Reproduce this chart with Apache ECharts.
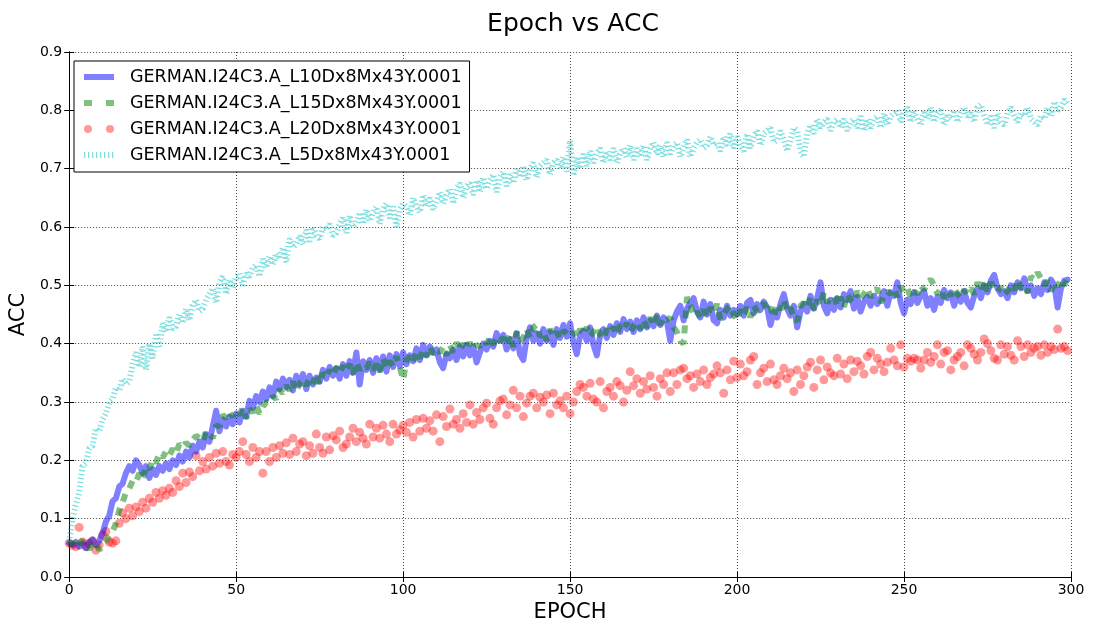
<!DOCTYPE html>
<html>
<head>
<meta charset="utf-8">
<title>Epoch vs ACC</title>
<script src="https://cdn.jsdelivr.net/npm/echarts@6/dist/echarts.min.js"></script>
<style>
  html, body { margin: 0; padding: 0; background: #fff; }
  #chart { width: 1095px; height: 628px; }
</style>
</head>
<body>
<div id="chart"></div>
<script>
// series names
var names = [
    "GERMAN.I24C3.A_L10Dx8Mx43Y.0001",
    "GERMAN.I24C3.A_L15Dx8Mx43Y.0001",
    "GERMAN.I24C3.A_L20Dx8Mx43Y.0001",
    "GERMAN.I24C3.A_L5Dx8Mx43Y.0001"
];

// ACC per epoch (index = epoch)
var accL10 = [
    .058,.055,.06,.052,.057,.05,.06,.064,.055,.062,
    .075,.095,.105,.13,.135,.155,.16,.178,.19,.182,
    .2,.192,.178,.19,.17,.185,.175,.19,.182,.195,
    .185,.2,.192,.208,.198,.215,.205,.225,.215,.232,
    .222,.245,.232,.258,.285,.25,.27,.258,.275,.262,
    .28,.265,.285,.275,.302,.29,.31,.3,.318,.305,
    .325,.31,.335,.322,.34,.325,.338,.32,.345,.33,
    .348,.322,.345,.33,.342,.335,.355,.34,.36,.345,
    .358,.34,.365,.345,.37,.35,.385,.33,.37,.355,
    .372,.35,.375,.355,.378,.352,.38,.36,.382,.362,
    .385,.365,.38,.37,.392,.372,.398,.38,.395,.385,
    .39,.368,.358,.382,.375,.39,.372,.395,.378,.398,
    .38,.395,.368,.385,.4,.39,.405,.395,.418,.405,
    .415,.39,.408,.392,.418,.382,.372,.41,.428,.405,
    .418,.4,.425,.405,.42,.398,.425,.41,.432,.412,
    .435,.402,.382,.415,.422,.405,.428,.398,.38,.415,
    .425,.41,.43,.415,.435,.42,.442,.425,.438,.42,
    .44,.425,.445,.428,.44,.43,.448,.432,.445,.438,
    .405,.44,.455,.465,.44,.46,.47,.478,.455,.445,
    .472,.45,.468,.44,.435,.458,.445,.465,.448,.458,
    .45,.465,.448,.47,.475,.452,.468,.458,.472,.462,
    .432,.455,.445,.468,.485,.46,.448,.465,.428,.455,
    .468,.455,.482,.46,.478,.505,.465,.452,.475,.458,
    .478,.462,.485,.475,.49,.46,.48,.455,.472,.48,
    .465,.482,.468,.478,.49,.465,.488,.482,.505,.47,
    .452,.475,.468,.488,.47,.482,.49,.465,.478,.458,
    .48,.47,.492,.478,.488,.465,.485,.472,.49,.47,
    .462,.482,.495,.478,.5,.488,.508,.518,.495,.485,
    .49,.478,.5,.488,.505,.495,.512,.49,.5,.482,
    .495,.485,.505,.492,.51,.5,.462,.495,.508,.51
];

var accL15 = [
    .055,.06,.05,.058,.062,.053,.048,.056,.06,.046,
    .055,.062,.07,.078,.092,.115,.128,.145,.152,.165,
    .162,.178,.168,.19,.185,.202,.196,.212,.205,.215,
    .208,.22,.212,.228,.222,.23,.225,.235,.242,.238,
    .232,.25,.245,.238,.26,.258,.278,.272,.282,.275,
    .285,.278,.29,.272,.288,.282,.295,.28,.292,.3,
    .298,.31,.305,.322,.315,.328,.32,.335,.318,.332,
    .338,.328,.342,.332,.348,.33,.35,.342,.355,.345,
    .36,.35,.362,.352,.365,.348,.368,.355,.362,.358,
    .368,.355,.365,.352,.375,.358,.37,.362,.378,.36,
    .338,.372,.378,.368,.385,.375,.39,.378,.395,.382,
    .39,.385,.395,.38,.398,.385,.402,.388,.4,.39,
    .402,.39,.398,.395,.405,.4,.41,.398,.412,.405,
    .41,.398,.415,.395,.42,.405,.41,.425,.41,.428,
    .432,.412,.42,.405,.425,.412,.42,.408,.422,.418,
    .412,.42,.41,.425,.415,.428,.412,.42,.43,.415,
    .408,.425,.418,.428,.415,.432,.425,.435,.42,.43,
    .438,.425,.44,.428,.445,.43,.448,.432,.445,.44,
    .445,.428,.42,.405,.4,.48,.465,.448,.455,.445,
    .458,.445,.462,.452,.468,.442,.45,.46,.465,.45,
    .44,.458,.448,.462,.445,.465,.455,.462,.47,.455,
    .462,.445,.468,.458,.475,.455,.462,.445,.438,.465,
    .47,.462,.48,.458,.475,.465,.488,.47,.478,.482,
    .465,.48,.462,.485,.475,.47,.49,.478,.485,.495,
    .48,.488,.495,.47,.482,.49,.485,.495,.48,.498,
    .488,.495,.48,.49,.485,.5,.492,.505,.51,.5,
    .485,.495,.478,.49,.482,.495,.485,.478,.492,.485,
    .495,.485,.505,.49,.51,.49,.505,.495,.488,.498,
    .485,.49,.5,.492,.51,.495,.5,.488,.515,.51,
    .522,.512,.5,.508,.49,.505,.498,.51,.5,.512
];

var accL20 = [
    .058,.054,.052,.085,.06,.052,.057,.062,.046,.055,
    .072,.078,.06,.058,.062,.092,.11,.1,.118,.105,
    .12,.112,.128,.118,.135,.128,.145,.135,.148,.14,
    .152,.145,.165,.155,.178,.162,.18,.172,.208,.182,
    .198,.185,.205,.19,.212,.195,.215,.198,.192,.21,
    .205,.215,.232,.21,.198,.222,.205,.215,.178,.215,
    .198,.222,.205,.225,.212,.23,.21,.238,.215,.228,
    .232,.208,.225,.212,.245,.222,.212,.24,.218,.242,
    .235,.25,.222,.228,.24,.255,.232,.248,.238,.228,
    .262,.24,.255,.238,.26,.245,.232,.262,.245,.252,
    .26,.248,.265,.24,.27,.25,.272,.255,.268,.25,
    .278,.232,.275,.258,.288,.262,.27,.255,.28,.265,
    .295,.262,.282,.27,.29,.298,.272,.262,.29,.302,
    .305,.278,.295,.32,.29,.31,.275,.298,.31,.315,
    .29,.308,.3,.312,.28,.315,.295,.302,.29,.31,
    .28,.3,.318,.33,.325,.31,.332,.305,.3,.335,
    .29,.318,.325,.31,.335,.328,.3,.32,.352,.328,
    .34,.315,.335,.322,.345,.325,.31,.34,.33,.35,
    .318,.35,.33,.355,.358,.34,.345,.325,.348,.335,
    .355,.33,.342,.348,.362,.35,.315,.355,.338,.37,
    .342,.365,.345,.352,.372,.378,.33,.35,.358,.335,
    .365,.338,.33,.345,.358,.34,.35,.318,.355,.33,
    .345,.36,.368,.325,.355,.372,.338,.36,.35,.345,
    .375,.348,.365,.34,.372,.352,.37,.362,.348,.378,
    .385,.355,.375,.365,.352,.368,.392,.372,.362,.398,
    .36,.375,.37,.375,.372,.358,.372,.385,.368,.378,
    .398,.365,.385,.388,.355,.372,.378,.385,.362,.398,
    .392,.382,.372,.385,.408,.4,.388,.375,.372,.398,
    .382,.395,.38,.372,.405,.395,.378,.398,.385,.392,
    .395,.38,.398,.385,.395,.39,.425,.392,.395,.388
];

var accL5 = [
    .06,.1,.125,.145,.19,.195,.22,.225,.255,.25,
    .27,.28,.3,.305,.325,.32,.34,.33,.335,.365,
    .385,.36,.395,.355,.4,.375,.415,.395,.435,.42,
    .445,.425,.43,.45,.435,.46,.44,.465,.475,.455,
    .46,.475,.485,.495,.47,.505,.515,.485,.51,.495,
    .515,.52,.5,.52,.515,.53,.535,.515,.545,.53,
    .55,.535,.555,.545,.565,.54,.58,.565,.57,.585,
    .57,.595,.575,.6,.585,.58,.6,.595,.605,.585,
    .59,.605,.615,.59,.62,.6,.605,.625,.605,.63,
    .61,.625,.635,.605,.63,.64,.615,.635,.6,.63,
    .64,.635,.62,.65,.635,.625,.655,.635,.65,.63,
    .645,.66,.64,.655,.665,.64,.665,.675,.65,.67,
    .675,.655,.68,.66,.685,.665,.68,.69,.66,.685,
    .695,.67,.69,.675,.7,.685,.705,.68,.7,.71,
    .685,.705,.71,.715,.69,.71,.715,.7,.72,.695,
    .748,.688,.72,.7,.725,.705,.73,.71,.725,.735,
    .71,.73,.715,.735,.71,.725,.735,.72,.74,.715,
    .735,.72,.74,.715,.735,.745,.725,.74,.72,.745,
    .725,.74,.745,.72,.735,.75,.72,.735,.745,.75,
    .735,.74,.755,.74,.745,.73,.755,.74,.76,.735,
    .755,.74,.73,.76,.735,.755,.765,.74,.76,.765,
    .77,.745,.75,.765,.75,.73,.75,.77,.765,.73,
    .72,.76,.775,.76,.785,.77,.78,.785,.765,.78,
    .785,.77,.785,.765,.78,.785,.77,.79,.765,.785,
    .77,.785,.79,.77,.795,.775,.79,.795,.8,.78,
    .795,.805,.78,.8,.785,.775,.8,.785,.805,.78,
    .795,.8,.775,.79,.785,.8,.78,.795,.805,.79,
    .795,.78,.805,.81,.79,.775,.79,.77,.795,.78,
    .775,.795,.805,.79,.78,.795,.79,.805,.785,.78,
    .775,.79,.785,.805,.79,.815,.8,.805,.818,.81
];

var xTicks = [0, 50, 100, 150, 200, 250, 300];
var yTicks = [0, 0.1, 0.2, 0.3, 0.4, 0.5, 0.6, 0.7, 0.8, 0.9];

var cBlue  = 'rgba(0,0,255,0.5)';
var cGreen = 'rgba(0,128,0,0.5)';
var cRed   = 'rgba(255,0,0,0.5)';
var cCyan  = 'rgba(0,191,191,0.5)';
var font = '"DejaVu Sans", sans-serif';

function pairs(arr) {
    return arr.map(function (v, i) { return [i, v]; });
}

// legend icons drawn in a 41x8 box, shape in the left 30px
var box = 'M0,0L0,0M41,8L41,8';
var iconBlue  = 'path://' + box + 'M0,1L30,1L30,7L0,7Z';
var iconGreen = 'path://' + box + 'M0,1L8,1L8,7L0,7ZM22,1L30,1L30,7L22,7Z';
var iconRed   = 'path://' + box + 'M0,4A4,4,0,1,0,8,4A4,4,0,1,0,0,4ZM22,4A4,4,0,1,0,30,4A4,4,0,1,0,22,4Z';
var iconCyan  = 'path://' + box;
for (var k = 0; k < 8; k++) {
    var sx = k * 4;
    iconCyan += 'M' + sx + ',1L' + (sx + 1.3) + ',1L' + (sx + 1.3) + ',7L' + sx + ',7Z';
}

var myChart = echarts.init(document.getElementById('chart'));

var gridLine = { show: true, lineStyle: { color: '#444', width: 1, type: [1, 2] } };
var tickIn = { show: true, inside: true, length: 5, lineStyle: { color: '#000' } };

var option = {
    animation: false,
    backgroundColor: '#fff',
    title: {
        text: 'Epoch vs ACC',
        left: 568,
        textAlign: 'center',
        top: 7,
        textStyle: { fontFamily: font, fontSize: 25, fontWeight: 'normal', color: '#000' }
    },
    legend: {
        orient: 'vertical',
        left: 74,
        top: 61,
        padding: [7, 8, 8, 10],
        itemGap: 8,
        itemWidth: 41,
        itemHeight: 8,
        borderColor: '#000',
        borderWidth: 1,
        backgroundColor: '#fff',
        textStyle: { fontFamily: font, fontSize: 17.5, color: '#000' },
        data: [
            { name: names[0], icon: iconBlue,  itemStyle: { color: cBlue,  borderWidth: 0 } },
            { name: names[1], icon: iconGreen, itemStyle: { color: cGreen, borderWidth: 0 } },
            { name: names[2], icon: iconRed,   itemStyle: { color: cRed,   borderWidth: 0 } },
            { name: names[3], icon: iconCyan,  itemStyle: { color: cCyan,  borderWidth: 0 } }
        ]
    },
    grid: { left: 65, right: 24, top: 52, bottom: 50 },
    xAxis: [
        {
            type: 'value', min: xTicks[0], max: xTicks[xTicks.length - 1], interval: 50,
            name: 'EPOCH', nameLocation: 'middle', nameGap: 25,
            nameTextStyle: { fontFamily: font, fontSize: 21, color: '#000' },
            axisLine: { show: true, lineStyle: { color: '#000', width: 1 } },
            axisTick: tickIn,
            axisLabel: { fontFamily: font, fontSize: 14, color: '#000', margin: 6 },
            splitLine: gridLine
        },
        {
            type: 'value', position: 'top', min: 0, max: 300, interval: 50,
            axisLine: { show: true, lineStyle: { color: '#000', width: 1 } },
            axisTick: tickIn, axisLabel: { show: false }, splitLine: { show: false }
        }
    ],
    yAxis: [
        {
            type: 'value', min: yTicks[0], max: yTicks[yTicks.length - 1], interval: 0.1,
            name: 'ACC', nameLocation: 'middle', nameGap: 34,
            nameTextStyle: { fontFamily: font, fontSize: 21, color: '#000' },
            axisLine: { show: true, lineStyle: { color: '#000', width: 1 } },
            axisTick: tickIn,
            axisLabel: {
                fontFamily: font, fontSize: 14, color: '#000', margin: 7,
                formatter: function (v) { return v.toFixed(1); }
            },
            splitLine: gridLine
        },
        {
            type: 'value', position: 'right', min: 0, max: 0.9, interval: 0.1,
            axisLine: { show: true, lineStyle: { color: '#000', width: 1 } },
            axisTick: tickIn, axisLabel: { show: false }, splitLine: { show: false }
        }
    ],
    series: [
        {
            name: names[0], type: 'line', showSymbol: false, symbol: 'none',
            xAxisIndex: 0, yAxisIndex: 0,
            data: pairs(accL10),
            itemStyle: { color: cBlue },
            lineStyle: { color: cBlue, width: 6, cap: 'round', join: 'round' }
        },
        {
            name: names[1], type: 'line', showSymbol: false, symbol: 'none',
            xAxisIndex: 0, yAxisIndex: 0,
            data: pairs(accL15),
            itemStyle: { color: cGreen },
            lineStyle: { color: cGreen, width: 6, type: [8, 7] }
        },
        {
            name: names[2], type: 'scatter', symbol: 'circle', symbolSize: 9,
            xAxisIndex: 0, yAxisIndex: 0,
            data: pairs(accL20),
            itemStyle: { color: cRed, borderWidth: 0 }
        },
        {
            name: names[3], type: 'line', showSymbol: false, symbol: 'none',
            xAxisIndex: 0, yAxisIndex: 0,
            data: pairs(accL5),
            itemStyle: { color: cCyan },
            lineStyle: { color: cCyan, width: 6, type: [1.3, 2.7] }
        }
    ]
};

myChart.setOption(option);
</script>
</body>
</html>
